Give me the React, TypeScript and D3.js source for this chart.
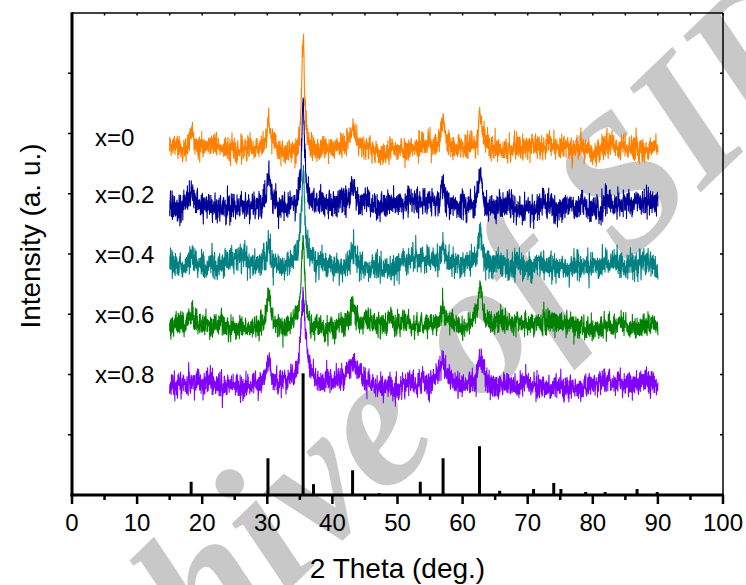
import React from 'react';
import * as d3 from 'd3';

// ---- data ----
const SERIES_LABELS = ['x=0', 'x=0.2', 'x=0.4', 'x=0.6', 'x=0.8'];
const SERIES_COLORS = ['#FF7F00', '#000099', '#008080', '#008000', '#8000FF'];
const SERIES_OFFSETS = [5.76, 4.81, 3.82, 2.82, 1.83];
const PEAK_POS = [18.3, 30.2, 35.5, 43.2, 57.0, 62.7];
const PEAK_HEIGHTS = [
  [0.28, 0.5, 1.82, 0.32, 0.45, 0.6],
  [0.2, 0.42, 1.7, 0.28, 0.42, 0.7],
  [0.12, 0.38, 1.45, 0.3, 0.28, 0.52],
  [0.12, 0.55, 1.4, 0.36, 0.32, 0.6],
  [0.1, 0.42, 1.4, 0.28, 0.36, 0.52],
];
const PEAK_WIDTHS = [
  [0.5, 0.3, 0.25, 0.4, 0.35, 0.35],
  [0.5, 0.3, 0.25, 0.4, 0.35, 0.3],
  [0.5, 0.3, 0.3, 0.45, 0.4, 0.35],
  [0.5, 0.35, 0.35, 0.5, 0.5, 0.45],
  [0.6, 0.6, 0.45, 1.0, 0.6, 0.55],
];
const NOISE_SD = [0.1, 0.11, 0.11, 0.095, 0.1];
const SCAN_START = 15;
const SCAN_END = 90;
const SCAN_STEP = 0.025;

const REF_POS = [18.3, 30.1, 35.5, 37.1, 43.1, 47.2, 53.5, 57.0, 62.6, 65.7, 70.9, 74.0, 75.1, 78.9, 81.9, 86.8, 89.9];
const REF_INT = [0.22, 0.61, 2.02, 0.18, 0.41, 0.03, 0.22, 0.61, 0.81, 0.07, 0.1, 0.2, 0.1, 0.05, 0.05, 0.1, 0.05];

const X_TICKS = [0, 10, 20, 30, 40, 50, 60, 70, 80, 90, 100];
const X_MINOR = [5, 15, 25, 35, 45, 55, 65, 75, 85, 95];
const Y_TICKS = [1, 2, 3, 4, 5, 6, 7];

// ---- layout ----
const W = 746;
const H = 585;
const M = { left: 72, right: 723, top: 13, bottom: 495 };

function mulberry32(a: number) {
  return function () {
    a |= 0;
    a = (a + 0x6d2b79f5) | 0;
    let t = Math.imul(a ^ (a >>> 15), 1 | a);
    t = (t + Math.imul(t ^ (t >>> 7), 61 | t)) ^ t;
    return ((t ^ (t >>> 14)) >>> 0) / 4294967296;
  };
}

function buildSeries(i: number) {
  const rnd = mulberry32(1234 + i * 977);
  const gauss = () => {
    const u = Math.max(rnd(), 1e-9);
    const v = rnd();
    return Math.sqrt(-2 * Math.log(u)) * Math.cos(2 * Math.PI * v);
  };
  const pts: [number, number][] = [];
  let ar = 0;
  let slow = 0;
  const n = Math.round((SCAN_END - SCAN_START) / SCAN_STEP);
  for (let k = 0; k <= n; k++) {
    const x = SCAN_START + k * SCAN_STEP;
    let y = SERIES_OFFSETS[i];
    PEAK_POS.forEach((p, j) => {
      const w = PEAK_WIDTHS[i][j];
      const d = (x - p) / w;
      y += PEAK_HEIGHTS[i][j] / (1 + d * d);
    });
    ar = 0.25 * ar + gauss() * NOISE_SD[i] * 0.97;
    slow = 0.985 * slow + gauss() * 0.008;
    pts.push([x, y + ar + slow]);
  }
  return pts;
}

export default function App() {
  const x = d3.scaleLinear().domain([0, 100]).range([M.left, M.right]);
  const y = d3.scaleLinear().domain([0, 8]).range([M.bottom, M.top]);
  const line = d3
    .line<[number, number]>()
    .x((d) => x(d[0]))
    .y((d) => y(d[1]));
  const series = SERIES_LABELS.map((_, i) => buildSeries(i));
  const font = 'Liberation Sans, Arial, sans-serif';

  return (
    <svg width={W} height={H} style={{ position: 'absolute', left: 0, top: 0, background: '#fff' }}>
      <rect width={W} height={H} fill="#fff" />
      {/* watermark */}
      <text
        transform="translate(385,410) rotate(-44)"
        textAnchor="middle"
        dy="0.33em"
        fontFamily="Liberation Serif, Times New Roman, serif"
        fontStyle="italic"
        fontWeight="bold"
        fontSize={190}
        fill="#c8c8c8"
      >
        Archive of SID
      </text>

      {/* reference sticks */}
      {REF_POS.map((p, i) => (
        <line key={'r' + i} x1={x(p)} x2={x(p)} y1={y(0)} y2={y(REF_INT[i])} stroke="#000" strokeWidth={3} />
      ))}

      {/* series */}
      {series.map((pts, i) => (
        <path key={'s' + i} d={line(pts) || ''} fill="none" stroke={SERIES_COLORS[i]} strokeWidth={1.1} strokeLinejoin="round" />
      ))}

      {/* labels */}
      {SERIES_LABELS.map((l, i) => (
        <text key={'l' + i} x={95} y={y(SERIES_OFFSETS[i]) - 2} fontFamily={font} fontSize={24} fill="#000">
          {l}
        </text>
      ))}

      {/* frame */}
      <line x1={M.left} x2={M.right} y1={M.top} y2={M.top} stroke="#000" strokeWidth={1.5} />
      <line x1={M.right} x2={M.right} y1={M.top} y2={M.bottom} stroke="#000" strokeWidth={1.5} />
      {X_MINOR.concat(X_TICKS).map((t, i) => (
        <line key={'tt' + i} x1={x(t)} x2={x(t)} y1={M.top} y2={M.top + 2.5} stroke="#000" strokeWidth={1.5} />
      ))}
      {Y_TICKS.map((t, i) => (
        <line key={'rt' + i} x1={M.right} x2={M.right - 3} y1={y(t)} y2={y(t)} stroke="#000" strokeWidth={1.5} />
      ))}
      {Y_TICKS.map((t, i) => (
        <line key={'lt' + i} x1={M.left} x2={M.left - 4} y1={y(t)} y2={y(t)} stroke="#000" strokeWidth={1.5} />
      ))}
      <line x1={M.left} x2={M.left} y1={M.top - 0.75} y2={M.bottom + 1.5} stroke="#000" strokeWidth={3} />
      <line x1={M.left - 1.5} x2={M.right + 0.75} y1={M.bottom} y2={M.bottom} stroke="#000" strokeWidth={3} />
      {X_TICKS.map((t, i) => (
        <line key={'bt' + i} x1={x(t)} x2={x(t)} y1={M.bottom} y2={M.bottom + 9} stroke="#000" strokeWidth={2.5} />
      ))}
      {X_MINOR.map((t, i) => (
        <line key={'bm' + i} x1={x(t)} x2={x(t)} y1={M.bottom} y2={M.bottom + 5} stroke="#000" strokeWidth={2.5} />
      ))}
      {X_TICKS.map((t, i) => (
        <text key={'bl' + i} x={x(t)} y={531} textAnchor="middle" fontFamily={font} fontSize={24} fill="#000">
          {t}
        </text>
      ))}
      <text x={(M.left + M.right) / 2} y={578} textAnchor="middle" fontFamily={font} fontSize={28} fill="#000">
        2 Theta (deg.)
      </text>
      <text transform="translate(40,236) rotate(-90)" textAnchor="middle" fontFamily={font} fontSize={28} fill="#000">
        Intensity (a. u.)
      </text>
    </svg>
  );
}
